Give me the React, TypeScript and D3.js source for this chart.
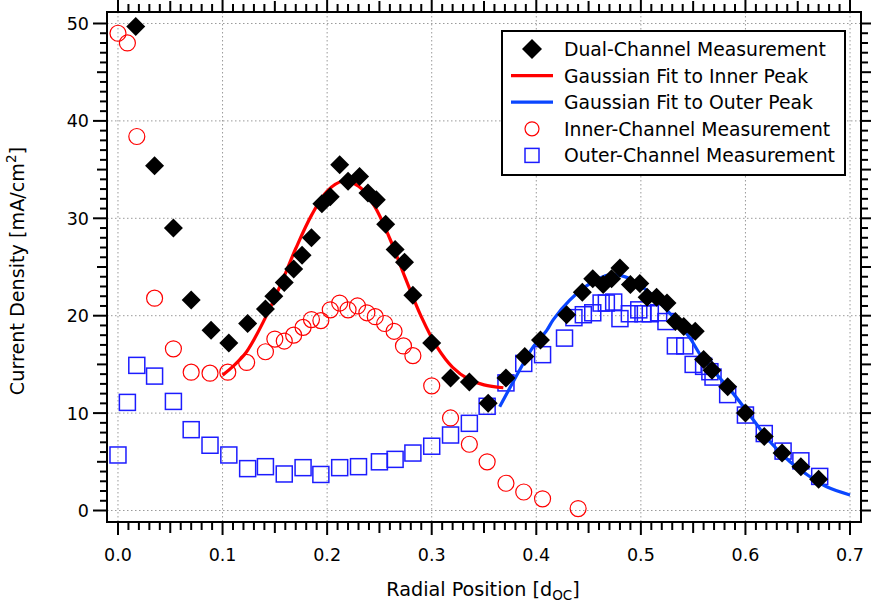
import React from "react";
import * as d3 from "d3";

// Dual-channel measurement (black diamonds)
const dualX = [0.017, 0.035, 0.053, 0.070, 0.089, 0.106, 0.124, 0.141, 0.149, 0.159, 0.168, 0.176, 0.185, 0.195, 0.203, 0.212, 0.220, 0.231, 0.239, 0.247, 0.256, 0.265, 0.274, 0.282, 0.300, 0.318, 0.336, 0.354, 0.371, 0.389, 0.404, 0.429, 0.444, 0.454, 0.464, 0.472, 0.480, 0.490, 0.499, 0.506, 0.515, 0.525, 0.533, 0.541, 0.552, 0.560, 0.568, 0.583, 0.600, 0.618, 0.635, 0.653, 0.670];
const dualY = [49.7, 35.4, 29.0, 21.6, 18.5, 17.2, 19.2, 20.7, 22.0, 23.4, 24.8, 26.2, 28.0, 31.5, 32.2, 35.5, 33.8, 34.3, 32.6, 31.9, 29.4, 26.8, 25.5, 22.1, 17.2, 13.6, 13.2, 11.0, 13.6, 15.8, 17.5, 20.1, 22.4, 23.8, 23.2, 23.8, 24.9, 23.2, 23.3, 21.9, 21.9, 21.3, 19.4, 18.9, 18.4, 15.5, 14.4, 12.7, 10.0, 7.6, 5.9, 4.5, 3.2];

// Inner-channel measurement (red open circles)
const innerX = [0.0, 0.009, 0.018, 0.035, 0.053, 0.070, 0.088, 0.105, 0.123, 0.141, 0.150, 0.159, 0.168, 0.177, 0.185, 0.194, 0.203, 0.212, 0.220, 0.229, 0.238, 0.246, 0.255, 0.264, 0.273, 0.282, 0.300, 0.318, 0.336, 0.353, 0.371, 0.388, 0.406, 0.440];
const innerY = [49.0, 48.0, 38.4, 21.8, 16.6, 14.2, 14.1, 14.2, 15.2, 16.3, 17.6, 17.4, 18.0, 18.8, 19.6, 19.5, 20.6, 21.3, 20.6, 21.0, 20.3, 19.9, 19.2, 18.4, 16.9, 15.9, 12.8, 9.5, 6.8, 5.0, 2.8, 1.9, 1.2, 0.2];

// Outer-channel measurement (blue open squares)
const outerX = [0.0, 0.009, 0.018, 0.035, 0.053, 0.070, 0.088, 0.106, 0.124, 0.141, 0.159, 0.177, 0.194, 0.212, 0.230, 0.250, 0.265, 0.282, 0.300, 0.318, 0.336, 0.353, 0.371, 0.388, 0.406, 0.427, 0.436, 0.445, 0.454, 0.462, 0.467, 0.474, 0.480, 0.489, 0.498, 0.502, 0.509, 0.517, 0.524, 0.533, 0.542, 0.550, 0.560, 0.566, 0.569, 0.583, 0.600, 0.618, 0.636, 0.653, 0.671];
const outerY = [5.7, 11.1, 14.9, 13.8, 11.2, 8.3, 6.7, 5.7, 4.3, 4.5, 3.75, 4.4, 3.7, 4.4, 4.5, 5.0, 5.25, 5.9, 6.6, 7.75, 8.95, 10.7, 13.1, 15.1, 16.0, 17.7, 19.8, 20.1, 20.3, 21.3, 21.3, 21.4, 19.7, 20.2, 20.6, 20.2, 20.2, 20.3, 19.4, 16.9, 16.9, 15.0, 14.8, 14.25, 13.7, 11.9, 9.8, 7.9, 6.1, 5.1, 3.5];

// Gaussian fit to the inner peak (red curve), sampled along the drawn curve
const innerFitX = [0.100, 0.110, 0.123, 0.141, 0.156, 0.170, 0.185, 0.200, 0.215, 0.230, 0.245, 0.260, 0.275, 0.290, 0.305, 0.320, 0.335, 0.350, 0.3685];
const innerFitY = [13.9, 14.8, 16.3, 19.8, 23.3, 26.9, 30.3, 32.8, 33.8, 33.3, 31.3, 27.9, 23.8, 19.9, 16.8, 14.7, 13.5, 12.9, 12.6];

// Gaussian fit to the outer peak (blue curve), sampled along the drawn curve
const outerFitX = [0.365, 0.3876, 0.397, 0.41, 0.4163, 0.432, 0.4513, 0.470, 0.4896, 0.5088, 0.528, 0.547, 0.558, 0.5884, 0.6076, 0.6235, 0.6426, 0.6618, 0.6777, 0.700];
const outerFitY = [10.66, 15.1, 16.8, 18.5, 19.6, 21.6, 23.3, 24.2, 23.8, 22.3, 20.2, 17.7, 15.8, 12.0, 9.3, 7.06, 5.0, 3.47, 2.44, 1.6];

const xTicks = [0.0, 0.1, 0.2, 0.3, 0.4, 0.5, 0.6, 0.7];
const yTicks = [0, 10, 20, 30, 40, 50];

const legendLabels = [
  "Dual-Channel Measurement",
  "Gaussian Fit to Inner Peak",
  "Gaussian Fit to Outer Peak",
  "Inner-Channel Measurement",
  "Outer-Channel Measurement",
];

const W = 871;
const H = 609;
const FRAME = { left: 107, right: 861, top: 12, bottom: 522 };
const FONT = "'DejaVu Sans', sans-serif";
const RED = "#ff0000";
const BLUE = "#0a46ff";
const SQ = "#1c1cff";

const x = d3.scaleLinear().domain([-0.0105, 0.7105]).range([FRAME.left, FRAME.right]);
const y = d3.scaleLinear().domain([-1.18, 51.18]).range([FRAME.bottom, FRAME.top]);

const diamond = (r: number) => `M0,${-r}L${r},0L0,${r}L${-r},0Z`;

export default function App() {
  const line = d3
    .line<[number, number]>()
    .x((d) => x(d[0]))
    .y((d) => y(d[1]))
    .curve(d3.curveCatmullRom.alpha(0.5));

  const innerFit: [number, number][] = innerFitX.map((v, i) => [v, innerFitY[i]]);
  const outerFit: [number, number][] = outerFitX.map((v, i) => [v, outerFitY[i]]);

  const xMinor = d3.range(0, 71).map((i) => i / 100);
  const yMinor = d3.range(0, 51);

  const gridColor = "#9a9a9a";

  const legendX = 502;
  const legendY = 31;
  const legendW = 343;
  const legendH = 144;
  const rowY = (i: number) => legendY + 18 + i * 26.6;
  const symX = 532;
  const textX = 564;

  return (
    <svg
      width={W}
      height={H}
      style={{ position: "absolute", left: 0, top: 0, background: "#fff" }}
      fontFamily={FONT}
    >
      <rect x={0} y={0} width={W} height={H} fill="#fff" />

      {/* grid */}
      <g stroke={gridColor} strokeWidth={1} strokeDasharray="1.5,2.5">
        {xTicks.map((t) => (
          <line key={"gx" + t} x1={x(t)} x2={x(t)} y1={FRAME.top} y2={FRAME.bottom} />
        ))}
        {yTicks.map((t) => (
          <line key={"gy" + t} x1={FRAME.left} x2={FRAME.right} y1={y(t)} y2={y(t)} />
        ))}
      </g>

      {/* outer-channel squares */}
      <g fill="none" stroke={SQ} strokeWidth={1.5}>
        {outerX.map((v, i) => (
          <rect key={"sq" + i} x={x(v) - 8} y={y(outerY[i]) - 8} width={16} height={16} />
        ))}
      </g>

      {/* inner-channel circles */}
      <g fill="none" stroke={RED} strokeWidth={1.2}>
        {innerX.map((v, i) => (
          <circle key={"c" + i} cx={x(v)} cy={y(innerY[i])} r={8} />
        ))}
      </g>

      {/* Gaussian fits */}
      <path d={line(innerFit) || ""} fill="none" stroke={RED} strokeWidth={3.2} />
      <path d={line(outerFit) || ""} fill="none" stroke={BLUE} strokeWidth={3.2} />

      {/* dual-channel diamonds */}
      <g fill="#000">
        {dualX.map((v, i) => (
          <path key={"d" + i} d={diamond(9.5)} transform={`translate(${x(v)},${y(dualY[i])})`} />
        ))}
      </g>

      {/* frame */}
      <rect
        x={FRAME.left}
        y={FRAME.top}
        width={FRAME.right - FRAME.left}
        height={FRAME.bottom - FRAME.top}
        fill="none"
        stroke="#000"
        strokeWidth={2}
      />

      {/* ticks */}
      <g stroke="#000" strokeWidth={2}>
        {xMinor.map((t, i) => {
          const len = i % 10 === 0 ? 13 : i % 5 === 0 ? 11 : 8;
          return (
            <g key={"xt" + i}>
              <line x1={x(t)} x2={x(t)} y1={FRAME.bottom} y2={FRAME.bottom + len} />
              <line x1={x(t)} x2={x(t)} y1={FRAME.top} y2={FRAME.top - len} />
            </g>
          );
        })}
        {yMinor.map((t) => {
          const len = t % 10 === 0 ? 14 : t % 5 === 0 ? 10 : 7;
          return (
            <g key={"yt" + t}>
              <line x1={FRAME.left} x2={FRAME.left - len} y1={y(t)} y2={y(t)} />
              <line x1={FRAME.right} x2={FRAME.right + len} y1={y(t)} y2={y(t)} />
            </g>
          );
        })}
      </g>

      {/* tick labels */}
      <g fontSize={17.5} fill="#000">
        {xTicks.map((t) => (
          <text key={"xl" + t} x={x(t)} y={561} textAnchor="middle">
            {d3.format(".1f")(t)}
          </text>
        ))}
        {yTicks.map((t) => (
          <text key={"yl" + t} x={89} y={y(t) + 6.5} textAnchor="end">
            {t}
          </text>
        ))}
      </g>

      {/* axis titles */}
      <text x={483} y={596} textAnchor="middle" fontSize={19.2} fill="#000">
        Radial Position [d
        <tspan fontSize={13.5} dy={4}>OC</tspan>
        <tspan dy={-4}>]</tspan>
      </text>
      <text
        transform={`translate(24,${(FRAME.top + FRAME.bottom) / 2 + 4}) rotate(-90)`}
        textAnchor="middle"
        fontSize={19.2}
        fill="#000"
      >
        Current Density [mA/cm
        <tspan fontSize={13.5} dy={-8}>2</tspan>
        <tspan dy={8}>]</tspan>
      </text>

      {/* legend */}
      <rect x={legendX} y={legendY} width={legendW} height={legendH} fill="#fff" stroke="#000" strokeWidth={2} />
      <path d={diamond(10)} transform={`translate(${symX},${rowY(0)})`} fill="#000" />
      <line x1={511} x2={553} y1={rowY(1)} y2={rowY(1)} stroke={RED} strokeWidth={3.2} />
      <line x1={511} x2={553} y1={rowY(2)} y2={rowY(2)} stroke={BLUE} strokeWidth={3.2} />
      <circle cx={symX} cy={rowY(3)} r={7} fill="none" stroke={RED} strokeWidth={1.2} />
      <rect x={symX - 7} y={rowY(4) - 7} width={14} height={14} fill="none" stroke={SQ} strokeWidth={1.5} />
      <g fontSize={18.8} fill="#000">
        {legendLabels.map((s, i) => (
          <text key={s} x={textX} y={rowY(i) + 7}>
            {s}
          </text>
        ))}
      </g>
    </svg>
  );
}
